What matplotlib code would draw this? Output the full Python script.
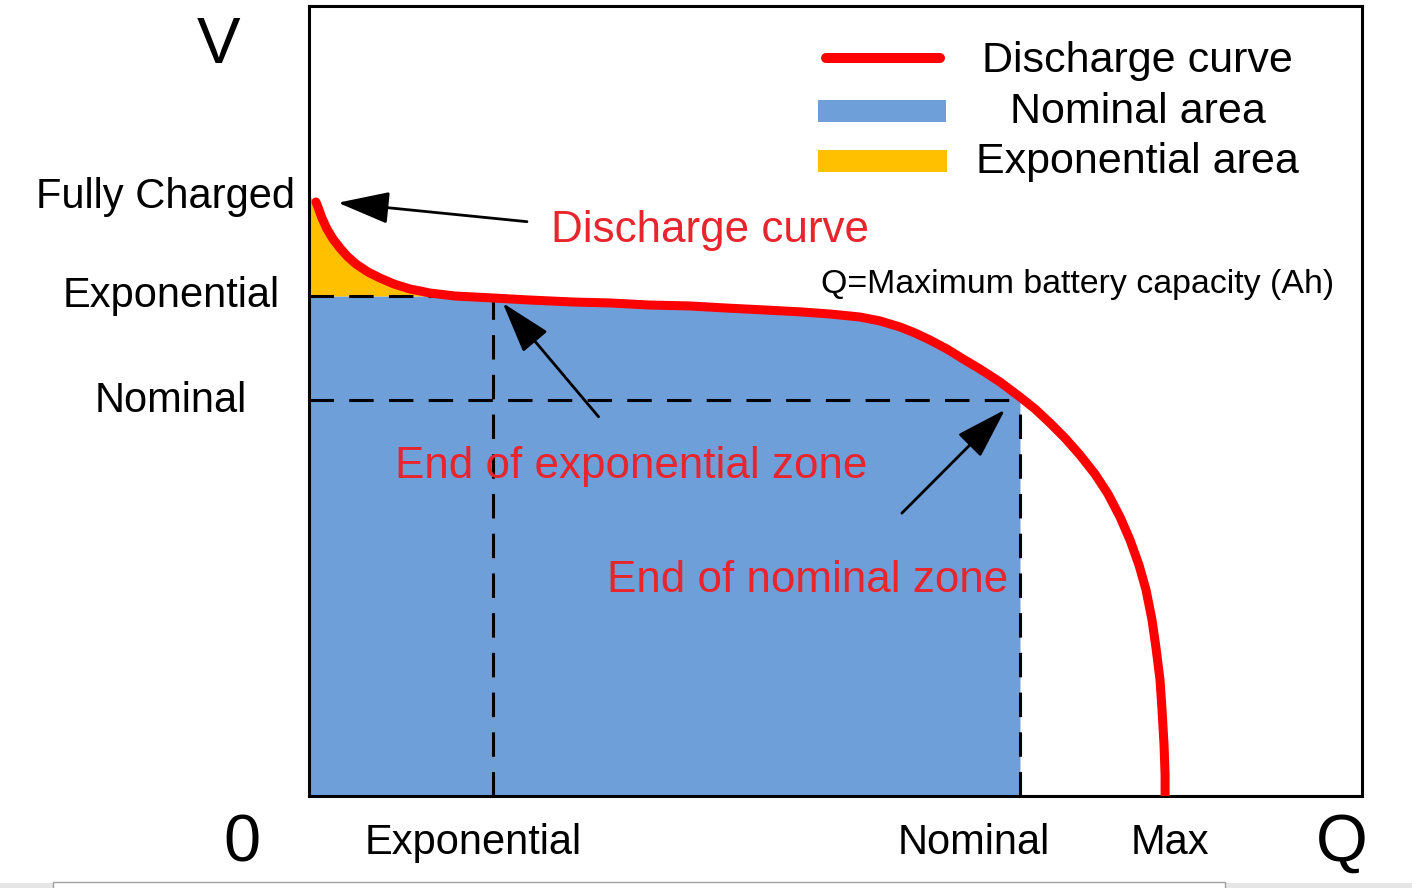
import numpy as np
import matplotlib
matplotlib.use('Agg')
import matplotlib.pyplot as plt
from matplotlib.patches import Rectangle

plt.rcParams['font.family'] = ['Liberation Sans', 'DejaVu Sans']

# discharge curve (Q, V)
q_curve = [0.066, 0.085, 0.123, 0.171, 0.228, 0.294, 0.361, 0.446, 0.560, 0.674,
           0.807, 0.959, 1.149, 1.387, 1.747, 2.099, 2.507, 2.858, 3.229, 3.618,
           3.960, 4.330, 4.682, 4.948, 5.233, 5.423, 5.613, 5.755, 5.897, 6.059,
           6.211, 6.372, 6.562, 6.752, 6.895, 7.037, 7.179, 7.322, 7.464, 7.588,
           7.702, 7.797, 7.882, 7.949, 8.006, 8.044, 8.082, 8.101, 8.120, 8.130,
           8.130]
v_curve = [7.519, 7.456, 7.316, 7.177, 7.051, 6.937, 6.835, 6.734, 6.633, 6.557,
           6.481, 6.418, 6.367, 6.329, 6.304, 6.278, 6.253, 6.241, 6.215, 6.203,
           6.177, 6.152, 6.127, 6.101, 6.063, 6.013, 5.937, 5.861, 5.772, 5.658,
           5.532, 5.405, 5.241, 5.051, 4.899, 4.722, 4.532, 4.316, 4.076, 3.823,
           3.532, 3.241, 2.924, 2.608, 2.228, 1.873, 1.468, 1.089, 0.646, 0.266,
           0.0]

q_exp = 1.75     # end of exponential zone
v_exp = 6.33
q_nom = 6.752    # end of nominal zone
v_nom = 5.01

x_labels = ['Exponential', 'Nominal', 'Max']
x_label_pos = [1.56, 6.31, 8.18]
y_labels = ['Fully Charged', 'Exponential', 'Nominal']

q = np.array(q_curve)
v = np.array(v_curve)

fig = plt.figure(figsize=(14.12, 8.88), dpi=100)
ax = fig.add_axes([309/1412, 92/888, 1053/1412, 790/888])
ax.set_xlim(0, 10)
ax.set_ylim(0, 10)
ax.set_xticks([])
ax.set_yticks([])
for s in ax.spines.values():
    s.set_linewidth(2.2)

blue = '#6f9fd8'
yellow = '#ffc000'
red = '#ff0000'
red_txt = '#e8242c'

# areas
qb = np.concatenate([[0], q[q <= q_nom]])
vb = np.concatenate([[v_exp], np.minimum(v[q <= q_nom], v_exp)])
ax.fill_between(qb, 0, vb, color=blue, lw=0, zorder=1)
qy = np.concatenate([[0], q[q <= q_exp]])
vy = np.concatenate([[7.6], v[q <= q_exp]])
ax.fill_between(qy, v_exp, vy, where=vy >= v_exp, interpolate=True,
                color=yellow, lw=0, zorder=1)

# dashed guides
dash = dict(color='black', lw=2.2, dashes=(8, 5), zorder=2)
ax.plot([0, q_exp], [v_exp, v_exp], **dash)
ax.plot([q_exp, q_exp], [0, v_exp], **dash)
ax.plot([0, q_nom], [v_nom, v_nom], **dash)
ax.plot([q_nom, q_nom], [0, v_nom], **dash)

# curve
ax.plot(q, v, color=red, lw=6.5, solid_capstyle='round', solid_joinstyle='round', zorder=3)

# arrows
arr = dict(arrowstyle='-|>,head_length=1.6,head_width=0.5', color='black',
           lw=2.0, shrinkA=0, shrinkB=0, mutation_scale=20)
ax.annotate('', xy=(0.275, 7.51), xytext=(2.07, 7.27), arrowprops=arr, zorder=5)
ax.annotate('', xy=(1.84, 6.24), xytext=(2.75, 4.80), arrowprops=arr, zorder=5)
ax.annotate('', xy=(6.61, 4.89), xytext=(5.63, 3.58), arrowprops=arr, zorder=5)

# red notes
fs = 30
rfs = 31.7
ax.text(3.81, 7.01, 'Discharge curve', color=red_txt, fontsize=rfs, ha='center', va='baseline', zorder=6)
ax.text(3.06, 4.03, 'End of exponential zone', color=red_txt, fontsize=rfs, ha='center', va='baseline', zorder=6)
ax.text(4.74, 2.58, 'End of nominal zone', color=red_txt, fontsize=rfs, ha='center', va='baseline', zorder=6)
ax.text(7.30, 6.37, 'Q=Maximum battery capacity (Ah)', color='black', fontsize=24.4,
        ha='center', va='baseline', zorder=6)

# legend (drawn by hand, text centred like the original)
ax.plot([(826-309)/1053, (940-309)/1053], [(796-58)/790, (796-58)/790],
        transform=ax.transAxes, color=red, lw=7.2, solid_capstyle='round')
ax.add_patch(Rectangle((509/1053, (796-122)/790), 128/1053, 22/790, transform=ax.transAxes,
                       color=blue, lw=0))
ax.add_patch(Rectangle((509/1053, (796-172)/790), 129/1053, 22/790, transform=ax.transAxes,
                       color=yellow, lw=0))
lfs = 31
ax.text(7.87, 9.16, 'Discharge curve', fontsize=lfs, ha='center', va='baseline')
ax.text(7.87, 8.52, 'Nominal area', fontsize=lfs, ha='center', va='baseline')
ax.text(7.87, 7.89, 'Exponential area', fontsize=lfs, ha='center', va='baseline')

# axis labels
ax.text(-0.864, 9.28, 'V', fontsize=47, ha='center', va='baseline', clip_on=False)
ax.text(-0.636, -0.835, '0', fontsize=48, ha='center', va='baseline', clip_on=False)
ax.text(9.81, -0.82, 'Q', fontsize=48, ha='center', va='baseline', clip_on=False)
ax.text(-0.133, 7.44, y_labels[0], fontsize=fs, ha='right', va='baseline', clip_on=False)
ax.text(-1.31, 6.19, y_labels[1], fontsize=fs, ha='center', va='baseline', clip_on=False)
ax.text(-1.31, 4.86, y_labels[2], fontsize=fs, ha='center', va='baseline', clip_on=False)
for lab, xp in zip(x_labels, x_label_pos):
    ax.text(xp, -0.73, lab, fontsize=fs, ha='center', va='baseline', clip_on=False)

# bottom strip of the screenshot
fig.patches.append(Rectangle((0, 0), 1, 5/888, transform=fig.transFigure,
                             facecolor='#e6e6e6', edgecolor='none'))
fig.patches.append(Rectangle((53/1412, -0.01), (1225-53)/1412, 6/888 + 0.01,
                             transform=fig.transFigure, facecolor='white',
                             edgecolor='#a0a0a0', lw=1))

fig.savefig('out.png', dpi=100)
